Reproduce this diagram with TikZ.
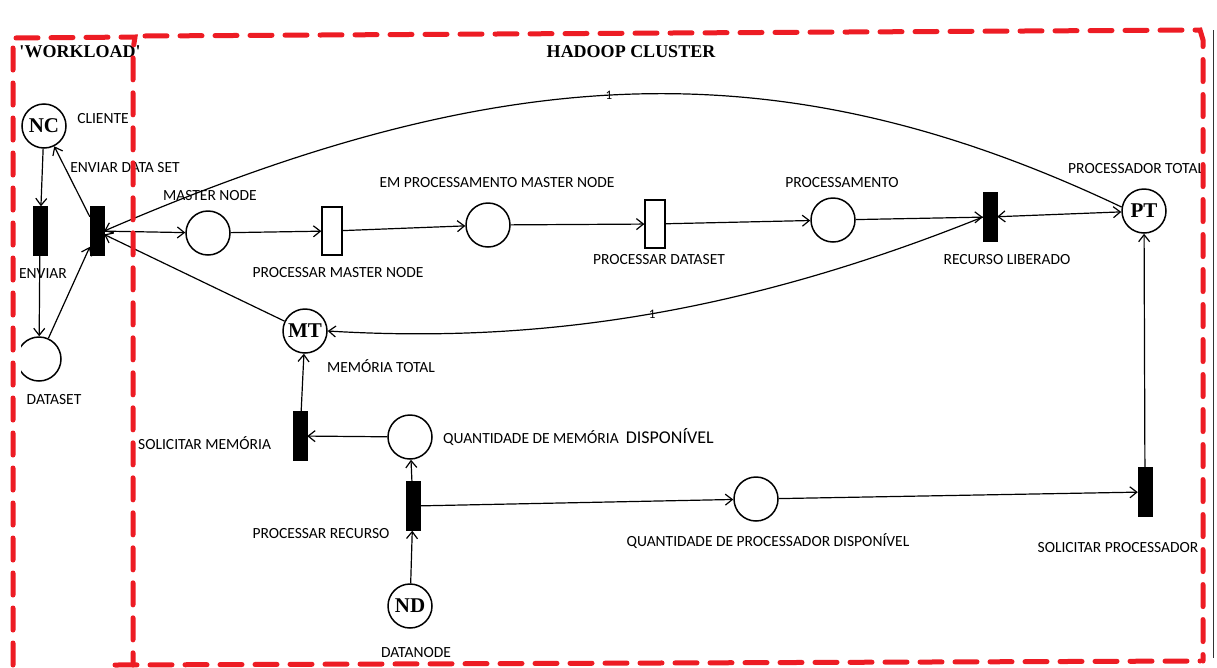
\documentclass[tikz,border=0pt]{standalone}
\usepackage{fontspec}
\setmainfont{Carlito}
\newfontfamily\tnr{Liberation Serif}
\usetikzlibrary{arrows.meta}
\definecolor{rd}{RGB}{237,28,36}
\begin{document}
\begin{tikzpicture}[x=1pt,y=-1pt,
  place/.style={circle,draw,line width=1.5pt,minimum size=44pt,inner sep=0pt,font=\tnr\bfseries\fontsize{21}{21}\selectfont},
  bar/.style={rectangle,fill=black,draw=black,minimum width=14pt,minimum height=49pt,inner sep=0pt},
  wbar/.style={rectangle,fill=white,draw=black,line width=1.3pt,minimum width=20pt,minimum height=48pt,inner sep=0pt},
  lbl/.style={font=\fontsize{15.5}{18}\selectfont,inner sep=0pt},
  ttl/.style={font=\tnr\bfseries\fontsize{18}{18}\selectfont,inner sep=0pt},
  wt/.style={font=\fontsize{13}{13}\selectfont,inner sep=0pt,anchor=south,yshift=-5pt},
  arc/.style={line width=1.2pt,-{Straight Barb[length=7pt,width=11pt]}},
  darc/.style={line width=1.2pt,{Straight Barb[length=7pt,width=11pt]}-{Straight Barb[length=7pt,width=11pt]}},
  redbox/.style={rd,line width=5pt,line cap=round,dash pattern=on 22pt off 13pt},
]
\useasboundingbox[fill=white] (0,0) rectangle (1217,667);

% places
\node[place] (nc) at (44,126) {NC};
\node[place,draw=none] (ds) at (39,359) {};
\begin{scope}
  \clip (21,320) rectangle (80,400);
  \draw[line width=1.5pt] (ds) circle[radius=22pt];
\end{scope}
\node[place] (mn) at (208,233) {};
\node[place] (emp) at (488,225) {};
\node[place] (proc) at (833,220) {};
\node[place] (pt) at (1144,211) {PT};
\node[place] (mt) at (305,331) {MT};
\node[place] (qmd) at (410,437) {};
\node[place] (nd) at (410,606) {ND};
\node[place] (qpd) at (756,499) {};

% transitions
\node[bar] (env) at (40,231) {};
\node[bar] (eds) at (97,231) {};
\node[wbar] (pmn) at (332,231) {};
\node[wbar] (pd) at (655,224) {};
\node[bar] (rl) at (990,217) {};
\node[bar] (sm) at (300,436) {};
\node[bar] (pr) at (413,506) {};
\node[bar] (sp) at (1145,492) {};

% labels
\node[lbl] (lcli) at (103,119) {CLIENTE};
\node[lbl] (leds) at (125,168) {ENVIAR DATA SET};
\node[lbl] (lenv) at (43,274) {ENVIAR};
\node[lbl] (lds) at (54,400) {DATASET};
\node[lbl] (lmn) at (210,196) {MASTER NODE};
\node[lbl] (lpmn) at (338,273) {PROCESSAR MASTER NODE};
\node[lbl] (lemp) at (497,183) {EM PROCESSAMENTO MASTER NODE};
\node[lbl] (lpd) at (659,260) {PROCESSAR DATASET};
\node[lbl] (lproc) at (842,183) {PROCESSAMENTO};
\node[lbl] (lrl) at (1007,260) {RECURSO LIBERADO};
\node[lbl,anchor=west] (lpt) at (1068,169) {PROCESSADOR TOTAL};
\node[lbl] (lmt) at (381,366) {MEMÓRIA TOTAL};
\node[lbl,anchor=west] (lsm) at (138,443) {SOLICITAR MEMÓRIA};
\node[lbl,anchor=west] (lqmd) at (443,437) {QUANTIDADE DE MEMÓRIA\ \ {\fontsize{18}{18}\selectfont DISPONÍVEL}};
\node[lbl] (lpr) at (321,534) {PROCESSAR RECURSO};
\node[lbl] (lnd) at (416,653) {DATANODE};
\node[lbl] (lqpd) at (768,541) {QUANTIDADE DE PROCESSADOR DISPONÍVEL};
\node[lbl] (lsp) at (1118,548) {SOLICITAR PROCESSADOR};
\node[ttl] (twl) at (80,52) {\char39 WORKLOAD\char39};
\node[ttl] (thc) at (631,52) {HADOOP CLUSTER};

% arcs
\draw[arc] (nc) -- (env);
\draw[arc] (env) -- (ds);
\draw[arc] (ds) -- (eds);
\draw[arc] (eds) -- (nc);
\draw[arc] (eds) -- (mn);
\draw[arc] (mn) -- (pmn);
\draw[arc] (pmn) -- (emp);
\draw[arc] (emp) -- (pd);
\draw[arc] (pd) -- (proc);
\draw[arc] (proc) -- (rl);
\draw[darc] (rl) -- (pt);
\draw[arc] (pt.170) .. controls (780,45) and (500,60) .. node[pos=0.525,wt] (w1) {1} (eds.east);
\draw[arc] (rl.west) .. controls (732,318) and (527,343) .. node[pos=0.475,wt] (w2) {1} (mt.east);
\draw[arc] (mt) -- (eds);
\draw[arc] (sm) -- (mt);
\draw[arc] (qmd) -- (sm);
\draw[arc] (pr) -- (qmd);
\draw[arc] (nd) -- (pr);
\draw[arc] (pr) -- (qpd);
\draw[arc] (qpd) -- (sp);
\draw[arc] (sp) -- (pt);

% frames
\draw[line width=0.8pt,black!80] (1213,30) -- (1213,658);
\draw[redbox] (13,665) -- (13,38) -- (135,37) -- (133,50) -- (133,665);
\draw[redbox] (145,36) -- (1200,30) -- (1203,40) -- (1203,661);
\draw[redbox] (115,665) -- (1200,661);
\end{tikzpicture}
\end{document}
